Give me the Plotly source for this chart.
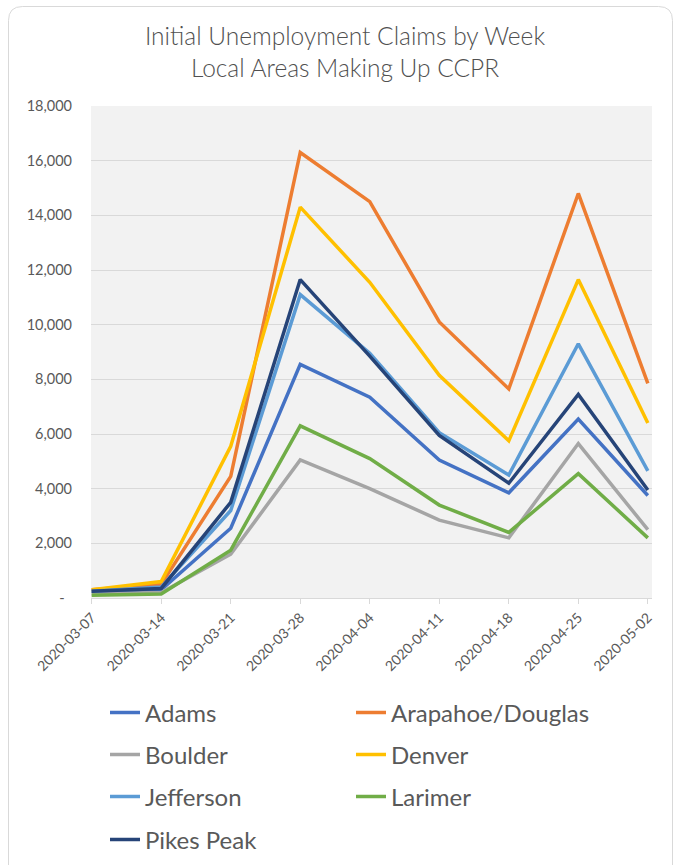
import plotly.graph_objects as go

weeks = ["2020-03-07", "2020-03-14", "2020-03-21", "2020-03-28", "2020-04-04",
         "2020-04-11", "2020-04-18", "2020-04-25", "2020-05-02"]

adams = [250, 300, 2550, 8550, 7350, 5050, 3850, 6550, 3750]
arapahoe_douglas = [300, 500, 4450, 16300, 14500, 10100, 7650, 14800, 7850]
boulder = [150, 200, 1600, 5050, 4000, 2850, 2200, 5650, 2500]
denver = [300, 600, 5550, 14300, 11550, 8150, 5750, 11650, 6400]
jefferson = [250, 400, 3200, 11100, 8950, 6050, 4500, 9300, 4650]
larimer = [100, 150, 1750, 6300, 5100, 3400, 2400, 4550, 2200]
pikes_peak = [250, 350, 3500, 11650, 8850, 5950, 4200, 7450, 3950]

y_ticks = [0, 2000, 4000, 6000, 8000, 10000, 12000, 14000, 16000, 18000]
y_ticktext = ["-\u00a0\u00a0"] + [f"{v:,}" for v in y_ticks[1:]]

series = [
    ("Adams", adams, "#4472C4", "legend"),
    ("Arapahoe/Douglas", arapahoe_douglas, "#ED7D31", "legend"),
    ("Boulder", boulder, "#A5A5A5", "legend2"),
    ("Denver", denver, "#FFC000", "legend2"),
    ("Jefferson", jefferson, "#5B9BD5", "legend3"),
    ("Larimer", larimer, "#70AD47", "legend3"),
    ("Pikes Peak", pikes_peak, "#264478", "legend4"),
]

W, H = 677, 865
ML, MR, MT, MB = 91, 25, 106, 267
FONT = "Lato"
GREY_TXT = "#595959"

fig = go.Figure()
for name, vals, color, leg in series:
    fig.add_trace(go.Scatter(x=weeks, y=vals, name=name, mode="lines",
                             line=dict(color=color, width=3.5),
                             legend=leg))

pw = W - ML - MR
ph = H - MT - MB
def px2x(p):
    return (p - ML) / pw
def py2y(p):
    return (H - MB - p) / ph

# rounded chart border
x0, x1, y0, y1, r = 8.5, 672.5, 6.5, 900, 14
path = (f"M {px2x(x0 + r)} {py2y(y0)} L {px2x(x1 - r)} {py2y(y0)} "
        f"Q {px2x(x1)} {py2y(y0)} {px2x(x1)} {py2y(y0 + r)} "
        f"L {px2x(x1)} {py2y(y1)} L {px2x(x0)} {py2y(y1)} "
        f"L {px2x(x0)} {py2y(y0 + r)} Q {px2x(x0)} {py2y(y0)} {px2x(x0 + r)} {py2y(y0)} Z")

legend_common = dict(orientation="h", xref="container", yref="container",
                     x=105 / W, xanchor="left", yanchor="middle",
                     entrywidth=201, entrywidthmode="pixels",
                     font=dict(family=FONT, size=24, color=GREY_TXT),
                     bgcolor="rgba(0,0,0,0)", itemwidth=30, tracegroupgap=0)
rows = [713, 755, 797, 840]

fig.update_layout(
    width=W, height=H,
    margin=dict(l=ML, r=MR, t=MT, b=MB, pad=0),
    paper_bgcolor="white",
    plot_bgcolor="#F2F2F2",
    font=dict(family=FONT, color=GREY_TXT),
    title=dict(text="Initial Unemployment Claims by Week<br>Local Areas Making Up CCPR",
               x=345 / W, xref="container", xanchor="center",
               y=1 - 45 / H, yref="container", yanchor="middle",
               font=dict(family=FONT, size=24.5, color="#505050", weight=300)),
    xaxis=dict(type="category", range=[-0.01, 8.06], tickangle=-45,
               showgrid=False, showline=True, linecolor="#D9D9D9", linewidth=1,
               ticks="outside", ticklen=5, tickcolor="#D9D9D9",
               tickfont=dict(family=FONT, size=14, color=GREY_TXT)),
    yaxis=dict(range=[0, 18000], tickvals=y_ticks, ticktext=y_ticktext,
               showgrid=True, gridcolor="#D9D9D9", gridwidth=1,
               zeroline=False, showline=False, ticklabelstandoff=18,
               tickfont=dict(family=FONT, size=14.5, color=GREY_TXT)),
    shapes=[dict(type="path", path=path, xref="paper", yref="paper",
                 line=dict(color="#D9D9D9", width=1), layer="below")],
    legend=dict(**legend_common, y=1 - rows[0] / H),
    legend2=dict(**legend_common, y=1 - rows[1] / H),
    legend3=dict(**legend_common, y=1 - rows[2] / H),
    legend4=dict(**legend_common, y=1 - rows[3] / H),
)

fig.write_html("out.html", config={"displayModeBar": False},
               post_script="document.body.style.margin='0px';")
